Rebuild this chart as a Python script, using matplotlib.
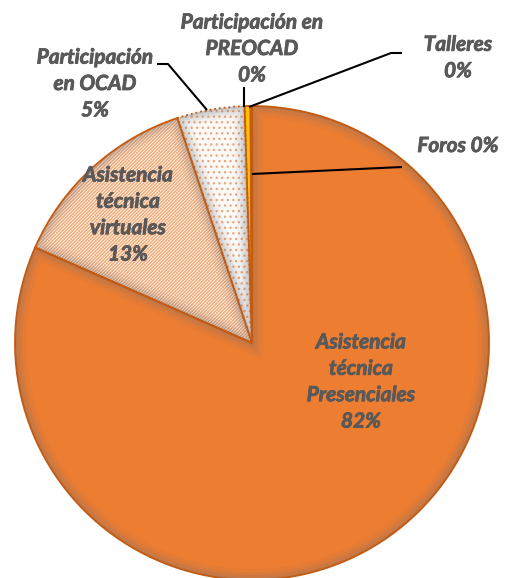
import numpy as np
import matplotlib.pyplot as plt
import matplotlib.patheffects as pe
from matplotlib.patches import Wedge

# tamaño de la figura en pixeles
W, H = 505, 578

nombres = ['Asistencia\ntécnica\nPresenciales', 'Asistencia\ntécnica\nvirtuales',
           'Participación\nen OCAD', 'Participación en\nPREOCAD', 'Talleres', 'Foros']
valores = [81.6, 13.3, 4.6, 0.4, 0.1, 0.0]

colores = ['#ED7D31', '#FDF0E7', '#F9F9F9', '#FFC000', '#4472C4', '#A5A5A5']
tramas = [None, '//////////', '...', None, None, None]
color_trama = '#F4A46C'
borde = '#C55A11'
gris_texto = '#595959'

plt.rcParams['hatch.linewidth'] = 0.9


def py(y):
    # pasar de coordenada de pixel (desde arriba) a coordenada del eje
    return H - y


fig = plt.figure(figsize=(W / 100, H / 100), dpi=100)
ax = fig.add_axes([0, 0, 1, 1])

centro = (252, py(343))
radio = 237
wedges, _ = ax.pie(valores, startangle=90, counterclock=False, center=centro,
                   radius=radio, colors=colores, wedgeprops=dict(linewidth=0))

for w, trama in zip(wedges, tramas):
    if trama:
        w.set_hatch(trama)
        w.set_edgecolor(color_trama)
        w.set_linewidth(0)

# sombra interior gris en cada porcion
for i, w in enumerate(wedges):
    if valores[i] < 1:
        continue
    for lw, a in [(16, 0.07), (11, 0.09), (7, 0.12), (3, 0.16)]:
        s = Wedge(w.center, w.r, w.theta1, w.theta2, fill=False,
                  edgecolor='#6f6f6f', lw=lw, alpha=a)
        ax.add_patch(s)
        s.set_clip_path(w)

# bordes
for i, w in enumerate(wedges):
    if valores[i] == 0:
        continue
    ls = ':' if i == 2 else '-'
    ax.add_patch(Wedge(w.center, w.r, w.theta1, w.theta2, fill=False,
                       edgecolor=borde, lw=1.3, linestyle=ls))

# etiquetas
pct = [f'{round(v):.0f}%' for v in valores]
textos = [nombres[0] + '\n' + pct[0],
          nombres[1] + '\n' + pct[1],
          nombres[2] + '\n' + pct[2],
          nombres[3] + '\n' + pct[3],
          nombres[4] + '\n' + pct[4],
          nombres[5] + ' ' + pct[5]]
pos = [(361, 382), (128, 215), (95, 84), (252, 49), (458, 58), (458, 146)]
for t, (x, y) in zip(textos, pos):
    ax.text(x, py(y), t, ha='center', va='center', fontsize=15,
            fontweight='bold', fontstyle='italic', family='Lato',
            color=gris_texto, linespacing=1.4,
            path_effects=[pe.withStroke(linewidth=0.6, foreground=gris_texto)])

# lineas guia
guias = [
    [(157, 64), (168, 64), (207, 110)],
    [(244, 87), (244, 107)],
    [(402, 53), (391, 53), (249, 107)],
    [(402, 167), (252, 174)],
]
for g in guias:
    xs = [p[0] for p in g]
    ys = [py(p[1]) for p in g]
    ax.plot(xs, ys, color='black', lw=1.5, solid_capstyle='butt')

ax.set_xlim(0, W)
ax.set_ylim(0, H)
ax.axis('off')

fig.savefig('out.png', dpi=100)
